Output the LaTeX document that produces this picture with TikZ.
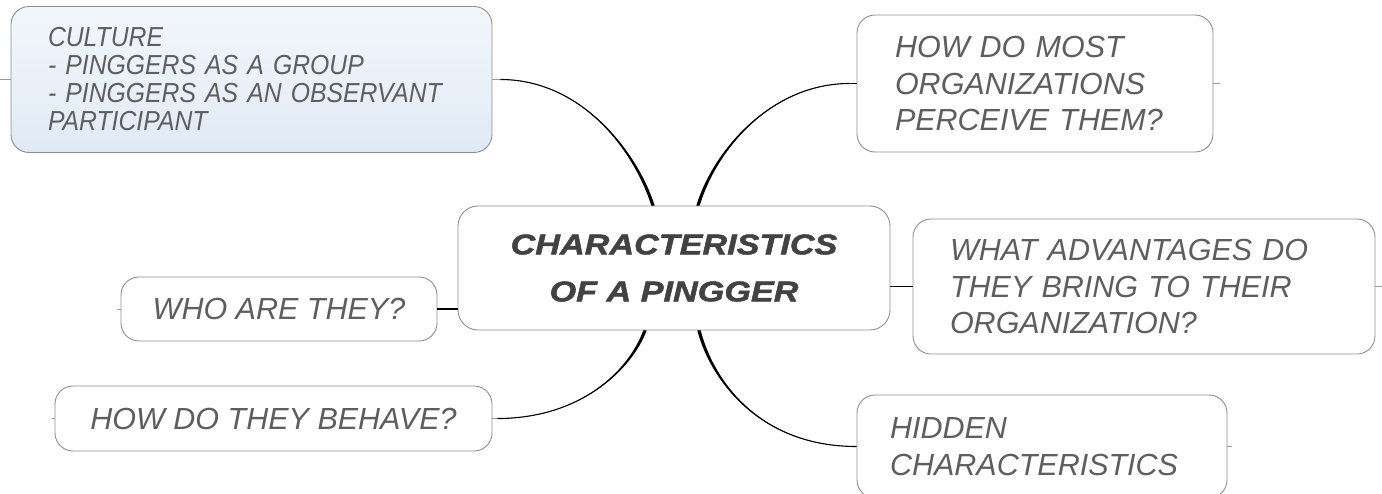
\documentclass[tikz,border=0pt]{standalone}
\usepackage{fontspec}
\setmainfont{Liberation Sans}
\newfontfamily\centerfont{Liberation Sans}[FakeStretch=1.2,FakeBold=1.6]
\newfontfamily\culfont{Liberation Sans}[FakeStretch=0.9]
\usetikzlibrary{calc}
\definecolor{txt}{HTML}{5E5E5E}
\definecolor{ctxt}{HTML}{424242}
\definecolor{bord}{HTML}{8E8E8E}
\definecolor{cultop}{HTML}{F3F7FC}
\definecolor{culbot}{HTML}{E0EAF5}
\tikzset{
  box/.style={draw=bord, line width=0.9pt, rounded corners=18pt, fill=white, inner sep=0pt,
    font=\itshape\fontsize{30.5}{36.5}\selectfont, text=txt},
  conn/.style={line width=1.1pt, draw=black},
  taper/.style={fill=black, draw=none},
  straightconn/.style={line width=1.3pt, draw=black},
  stub/.style={line width=0.8pt, draw=bord!90},
}
\begin{document}
\hyphenpenalty=10000
\exhyphenpenalty=10000
\hbadness=10000
\hfuzz=100pt
\begin{tikzpicture}[x=1pt,y=-1pt]
\useasboundingbox (0,0) rectangle (1382,493);
% boxes
\node[box, minimum width=481pt, minimum height=146pt, top color=cultop, bottom color=culbot,
  font=\culfont\itshape\fontsize{27.5}{28}\selectfont,
  text width=407pt, align=left] (culture) at (251.5,79.5)
  {CULTURE\\- PINGGERS AS A GROUP\\- PINGGERS AS AN OBSERVANT\\PARTICIPANT};
\node[box, rounded corners=20pt, minimum width=432pt, minimum height=124pt, text=ctxt,
  font=\centerfont\bfseries\itshape\fontsize{28.5}{47}\selectfont, align=center] (center) at (674,268)
  {CHARACTERISTICS\\OF A PINGGER};
\node[box, minimum width=356pt, minimum height=137pt, text width=280pt, align=left] (perceive) at (1035,83.5)
  {HOW DO MOST\\ORGANIZATIONS\\PERCEIVE THEM?};
\node[box, minimum width=462pt, minimum height=135pt, text width=388pt, align=left] (adv) at (1144,286.5)
  {WHAT ADVANTAGES DO\\THEY BRING TO THEIR\\ORGANIZATION?};
\node[box, minimum width=370pt, minimum height=103pt, text width=304pt, align=left] (hidden) at (1042,446.5)
  {HIDDEN\\CHARACTERISTICS};
\node[box, minimum width=316pt, minimum height=64pt, align=center] (who) at (279,309) {WHO ARE THEY?};
\node[box, minimum width=437pt, minimum height=65pt, align=center] (behave) at (273.5,418.5) {HOW DO THEY BEHAVE?};
% stubs
\draw[stub] (culture.west) -- ++(-11,0);
\draw[stub] (culture.east) -- ++(8,0);
\draw[stub] (who.west) -- ++(-4,0);
\draw[stub] (behave.west) -- ++(-3,0);
\draw[stub] (behave.east) -- ++(5,0);
\draw[stub] (perceive.east) -- ++(7,0);
\draw[stub] (adv.east) -- ++(7,0);
\draw[stub] (hidden.east) -- ++(5,0);
% named connector points
\coordinate (cS) at ($(culture.east)+(8,0)$);
\coordinate (cE) at ($(center.north)+(-21,0)$);
\coordinate (pS) at ($(perceive.west)+(-7,0)$);
\coordinate (pE) at ($(center.north)+(24,0)$);
\coordinate (bS) at ($(behave.east)+(5,0)$);
\coordinate (bE) at ($(center.south)+(-29,0)$);
\coordinate (hS) at (hidden.west);
\coordinate (hE) at ($(center.south)+(25,0)$);
% culture -> center
\draw[conn] (cS) .. controls ($(cS)+(80,0)$) and ($(cE)+(-18,-56)$) .. (cE);
\fill[taper] (cS) .. controls ($(cS)+(80,0)$) and ($(cE)+(-19.6,-56)$) .. ($(cE)+(-1.7,0)$)
  -- ($(cE)+(1.7,0)$) .. controls ($(cE)+(-16.4,-56)$) and ($(cS)+(80,0.4)$) .. (cS) -- cycle;
% perceive -> center
\draw[conn] (pS) .. controls ($(pS)+(-78,0)$) and ($(pE)+(17,-56)$) .. (pE);
\fill[taper] (pS) .. controls ($(pS)+(-78,0)$) and ($(pE)+(15.4,-56)$) .. ($(pE)+(-1.7,0)$)
  -- ($(pE)+(1.7,0)$) .. controls ($(pE)+(18.6,-56)$) and ($(pS)+(-78,0.4)$) .. (pS) -- cycle;
\draw[straightconn] (pS) -- (perceive.west);
% behave -> center
\draw[conn] (bS) .. controls ($(bS)+(83,0)$) and ($(bE)+(-15,40)$) .. (bE);
\fill[taper] (bS) .. controls ($(bS)+(83,0)$) and ($(bE)+(-16.6,40)$) .. ($(bE)+(-1.7,0)$)
  -- ($(bE)+(1.7,0)$) .. controls ($(bE)+(-13.4,40)$) and ($(bS)+(83,-0.4)$) .. (bS) -- cycle;
% hidden -> center
\draw[conn] (hS) .. controls ($(hS)+(-97,0)$) and ($(hE)+(13,50)$) .. (hE);
\fill[taper] (hS) .. controls ($(hS)+(-97,0)$) and ($(hE)+(11.4,50)$) .. ($(hE)+(-1.7,0)$)
  -- ($(hE)+(1.7,0)$) .. controls ($(hE)+(14.6,50)$) and ($(hS)+(-97,-0.4)$) .. (hS) -- cycle;
% straight ones
\draw[straightconn] (who.east) -- (who.east -| center.west);
\draw[straightconn] (center.east |- adv.west) -- (adv.west);
\end{tikzpicture}
\end{document}
